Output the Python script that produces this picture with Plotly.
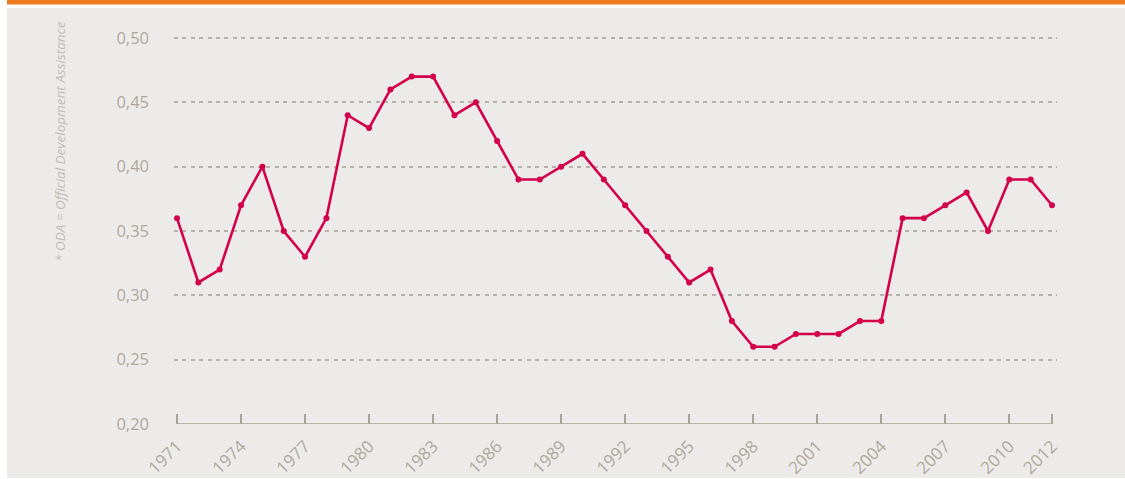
import plotly.graph_objects as go

years = list(range(1971, 2013))
oda_share = [0.36, 0.31, 0.32, 0.37, 0.40, 0.35, 0.33, 0.36, 0.44, 0.43,
             0.46, 0.47, 0.47, 0.44, 0.45, 0.42, 0.39, 0.39, 0.40, 0.41,
             0.39, 0.37, 0.35, 0.33, 0.31, 0.32, 0.28, 0.26, 0.26, 0.27,
             0.27, 0.27, 0.28, 0.28, 0.36, 0.36, 0.37, 0.38, 0.35, 0.39,
             0.39, 0.37]
x_tickvals = [1971, 1974, 1977, 1980, 1983, 1986, 1989, 1992, 1995, 1998,
              2001, 2004, 2007, 2010, 2012]
y_tickvals = [0.20, 0.25, 0.30, 0.35, 0.40, 0.45, 0.50]
note = "* ODA = Official Development Assistance"

W, H = 1125, 479
L, R, T, B = 174, 68, 35, 55
pw, ph = W - L - R, H - T - B
y_per_px = 0.30 / 386

def px(v):
    return (v - L) / pw

def py(v):
    return (H - B - v) / ph

axis_col = "#ABA396"
fig = go.Figure()
fig.add_trace(go.Scatter(
    x=years, y=oda_share, mode="lines+markers",
    line=dict(color="#D3004C", width=2.6),
    marker=dict(color="#D3004C", size=6),
    hoverinfo="x+y",
))

shapes = [
    dict(type="rect", xref="paper", yref="paper", x0=px(7), x1=px(W + 2),
         y0=py(H - 1), y1=py(8), fillcolor="#EDEBE9", line=dict(width=0),
         layer="below"),
    dict(type="rect", xref="paper", yref="paper", x0=px(7), x1=px(W + 2),
         y0=py(4.5), y1=py(0), fillcolor="#EE7A22", line=dict(width=0),
         layer="below"),
    dict(type="line", xref="x", yref="y", x0=years[0], x1=years[-1],
         y0=0.20, y1=0.20, line=dict(color=axis_col, width=1.5),
         layer="above"),
]

fig.update_layout(
    width=W, height=H,
    margin=dict(l=L, r=R, t=T, b=B, autoexpand=False),
    paper_bgcolor="white",
    plot_bgcolor="rgba(0,0,0,0)",
    separators=",.",
    showlegend=False,
    shapes=shapes,
    font=dict(family="Open Sans", color=axis_col),
    annotations=[dict(
        text="<i>" + note + "</i>", xref="paper", yref="paper",
        x=px(60), y=py(142), xanchor="center", yanchor="middle",
        textangle=-90, showarrow=False,
        font=dict(family="Open Sans", size=13.5, color="#C2BCB3"),
    )],
)
fig.update_xaxes(
    range=[1971 - 3 / 21.34, 2012 + 5 / 21.34], automargin=False,
    tickvals=x_tickvals, ticktext=[str(v) for v in x_tickvals],
    tickangle=-45, ticks="inside", ticklen=10, tickwidth=1.5,
    tickcolor=axis_col, showgrid=False, zeroline=False, showline=False,
    ticklabelstandoff=8,
    tickfont=dict(size=17, color="#AFA89D"),
)
fig.update_yaxes(
    range=[0.20, 0.50 + 3 * y_per_px], automargin=False,
    tickvals=y_tickvals, tickformat=".2f",
    showgrid=True, gridcolor="#B8B2A8", griddash="4px,4.4px", gridwidth=1.5,
    zeroline=False, showline=False, ticks="",
    ticklabelstandoff=24,
    tickfont=dict(size=16.5, color="#AFA89D"),
)

fig.write_html("out.html", config={"displayModeBar": False},
               post_script="document.body.style.margin='0';")
